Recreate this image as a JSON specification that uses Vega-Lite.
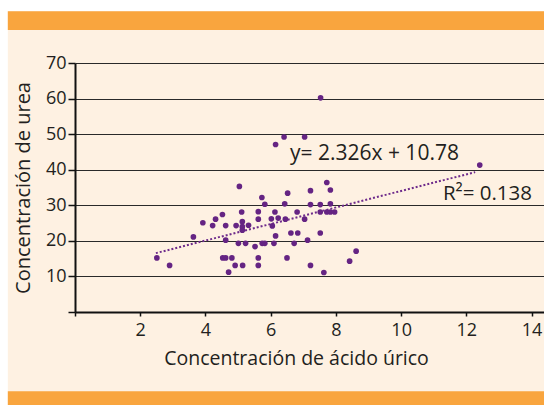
{
  "$schema": "https://vega.github.io/schema/vega-lite/v6.json",
  "background": "#FEF1E2",
  "autosize": "none",
  "width": 469,
  "height": 249,
  "padding": {"left": 75, "top": 63, "right": 0, "bottom": 93},
  "config": {"font": "Open Sans", "view": {"stroke": null}},
  "datasets": {
    "points": [
      {"x": 2.51, "y": 15.2}, {"x": 2.90, "y": 13.1}, {"x": 3.63, "y": 21.1}, {"x": 3.92, "y": 25.1},
      {"x": 4.22, "y": 24.3}, {"x": 4.31, "y": 26.1}, {"x": 4.52, "y": 27.4}, {"x": 4.53, "y": 15.2},
      {"x": 4.62, "y": 15.2}, {"x": 4.62, "y": 24.3}, {"x": 4.62, "y": 20.2}, {"x": 4.71, "y": 11.2},
      {"x": 4.81, "y": 15.2}, {"x": 4.91, "y": 13.1}, {"x": 4.94, "y": 24.3}, {"x": 5.01, "y": 19.3},
      {"x": 5.04, "y": 35.3}, {"x": 5.11, "y": 28.1}, {"x": 5.13, "y": 25.4}, {"x": 5.13, "y": 24.0},
      {"x": 5.13, "y": 23.0}, {"x": 5.14, "y": 13.1}, {"x": 5.23, "y": 19.3}, {"x": 5.32, "y": 24.4},
      {"x": 5.52, "y": 18.4}, {"x": 5.62, "y": 28.2}, {"x": 5.62, "y": 26.1}, {"x": 5.62, "y": 15.2},
      {"x": 5.62, "y": 13.1}, {"x": 5.73, "y": 32.2}, {"x": 5.74, "y": 19.3}, {"x": 5.82, "y": 19.3},
      {"x": 5.82, "y": 30.3}, {"x": 6.02, "y": 26.2}, {"x": 6.05, "y": 24.2}, {"x": 6.10, "y": 19.3},
      {"x": 6.13, "y": 28.1}, {"x": 6.15, "y": 21.4}, {"x": 6.15, "y": 47.1}, {"x": 6.23, "y": 26.4},
      {"x": 6.41, "y": 49.2}, {"x": 6.43, "y": 30.4}, {"x": 6.45, "y": 26.1}, {"x": 6.50, "y": 15.2},
      {"x": 6.52, "y": 33.4}, {"x": 6.62, "y": 22.2}, {"x": 6.72, "y": 19.3}, {"x": 6.81, "y": 28.1},
      {"x": 6.83, "y": 22.2}, {"x": 7.04, "y": 26.1}, {"x": 7.04, "y": 49.2}, {"x": 7.13, "y": 20.2},
      {"x": 7.22, "y": 34.1}, {"x": 7.22, "y": 30.2}, {"x": 7.22, "y": 13.1}, {"x": 7.52, "y": 30.2},
      {"x": 7.52, "y": 28.1}, {"x": 7.53, "y": 60.2}, {"x": 7.52, "y": 22.2}, {"x": 7.63, "y": 11.1},
      {"x": 7.72, "y": 36.4}, {"x": 7.72, "y": 28.1}, {"x": 7.83, "y": 34.3}, {"x": 7.83, "y": 30.4},
      {"x": 7.83, "y": 28.1}, {"x": 7.96, "y": 28.1}, {"x": 8.42, "y": 14.3}, {"x": 8.62, "y": 17.1},
      {"x": 12.41, "y": 41.3}
    ],
    "trend": [{"x": 2.48, "y": 16.55}, {"x": 12.27, "y": 39.32}]
  },
  "layer": [
    {
      "data": {"values": [{}]},
      "mark": {"type": "rect", "color": "#FFFFFF", "clip": false},
      "encoding": {
        "x": {"datum": -3, "type": "quantitative", "scale": {"domain": [0, 14.38], "nice": false, "zero": false}, "axis": {"title": "Concentración de ácido úrico", "values": [0, 2, 4, 6, 8, 10, 12, 14], "labelExpr": "datum.value == 0 ? '' : datum.label", "labelOverlap": false, "grid": false, "domainColor": "#111", "domainWidth": 2, "tickColor": "#111", "tickWidth": 1.5, "tickSize": 4, "labelFontSize": 18, "labelColor": "#231F20", "labelPadding": 5, "titleFontSize": 19.5, "titleFontWeight": "normal", "titleColor": "#231F20", "titlePadding": 10, "titleX": 221}},
        "x2": {"datum": 15},
        "y": {"datum": 95, "type": "quantitative", "scale": {"domain": [0, 70], "nice": false, "zero": false}, "axis": {"title": "Concentración de urea", "values": [0, 10, 20, 30, 40, 50, 60, 70], "labelExpr": "datum.value == 0 ? '' : datum.label", "labelOverlap": false, "grid": true, "gridColor": "#2a2a2a", "gridWidth": 1.2, "domainColor": "#111", "domainWidth": 2, "tickColor": "#111", "tickWidth": 1.5, "tickSize": 7, "labelFontSize": 18, "labelColor": "#231F20", "labelPadding": 2, "titleFontSize": 20, "titleFontWeight": "normal", "titleColor": "#231F20", "titlePadding": 12}},
        "y2": {"datum": 84.54}
      }
    },
    {
      "data": {"values": [{}]},
      "mark": {"type": "rect", "color": "#FFFFFF", "clip": false},
      "encoding": {
        "x": {"datum": -3, "type": "quantitative", "scale": {"domain": [0, 14.38], "nice": false, "zero": false}, "axis": {"title": "Concentración de ácido úrico", "values": [0, 2, 4, 6, 8, 10, 12, 14], "labelExpr": "datum.value == 0 ? '' : datum.label", "labelOverlap": false, "grid": false, "domainColor": "#111", "domainWidth": 2, "tickColor": "#111", "tickWidth": 1.5, "tickSize": 4, "labelFontSize": 18, "labelColor": "#231F20", "labelPadding": 5, "titleFontSize": 19.5, "titleFontWeight": "normal", "titleColor": "#231F20", "titlePadding": 10, "titleX": 221}},
        "x2": {"datum": -2.06},
        "y": {"datum": 95, "type": "quantitative", "scale": {"domain": [0, 70], "nice": false, "zero": false}, "axis": {"title": "Concentración de urea", "values": [0, 10, 20, 30, 40, 50, 60, 70], "labelExpr": "datum.value == 0 ? '' : datum.label", "labelOverlap": false, "grid": true, "gridColor": "#2a2a2a", "gridWidth": 1.2, "domainColor": "#111", "domainWidth": 2, "tickColor": "#111", "tickWidth": 1.5, "tickSize": 7, "labelFontSize": 18, "labelColor": "#231F20", "labelPadding": 2, "titleFontSize": 20, "titleFontWeight": "normal", "titleColor": "#231F20", "titlePadding": 12}},
        "y2": {"datum": -30}
      }
    },
    {
      "data": {"values": [{}]},
      "mark": {"type": "rect", "color": "#F9A53E", "clip": false},
      "encoding": {
        "x": {"datum": -2.06, "type": "quantitative", "scale": {"domain": [0, 14.38], "nice": false, "zero": false}, "axis": {"title": "Concentración de ácido úrico", "values": [0, 2, 4, 6, 8, 10, 12, 14], "labelExpr": "datum.value == 0 ? '' : datum.label", "labelOverlap": false, "grid": false, "domainColor": "#111", "domainWidth": 2, "tickColor": "#111", "tickWidth": 1.5, "tickSize": 4, "labelFontSize": 18, "labelColor": "#231F20", "labelPadding": 5, "titleFontSize": 19.5, "titleFontWeight": "normal", "titleColor": "#231F20", "titlePadding": 10, "titleX": 221}},
        "x2": {"datum": 15},
        "y": {"datum": 84.54, "type": "quantitative", "scale": {"domain": [0, 70], "nice": false, "zero": false}, "axis": {"title": "Concentración de urea", "values": [0, 10, 20, 30, 40, 50, 60, 70], "labelExpr": "datum.value == 0 ? '' : datum.label", "labelOverlap": false, "grid": true, "gridColor": "#2a2a2a", "gridWidth": 1.2, "domainColor": "#111", "domainWidth": 2, "tickColor": "#111", "tickWidth": 1.5, "tickSize": 7, "labelFontSize": 18, "labelColor": "#231F20", "labelPadding": 2, "titleFontSize": 20, "titleFontWeight": "normal", "titleColor": "#231F20", "titlePadding": 12}},
        "y2": {"datum": 79.3}
      }
    },
    {
      "data": {"values": [{}]},
      "mark": {"type": "rect", "color": "#F9A53E", "clip": false},
      "encoding": {
        "x": {"datum": -2.06, "type": "quantitative", "scale": {"domain": [0, 14.38], "nice": false, "zero": false}, "axis": {"title": "Concentración de ácido úrico", "values": [0, 2, 4, 6, 8, 10, 12, 14], "labelExpr": "datum.value == 0 ? '' : datum.label", "labelOverlap": false, "grid": false, "domainColor": "#111", "domainWidth": 2, "tickColor": "#111", "tickWidth": 1.5, "tickSize": 4, "labelFontSize": 18, "labelColor": "#231F20", "labelPadding": 5, "titleFontSize": 19.5, "titleFontWeight": "normal", "titleColor": "#231F20", "titlePadding": 10, "titleX": 221}},
        "x2": {"datum": 15},
        "y": {"datum": -22.3, "type": "quantitative", "scale": {"domain": [0, 70], "nice": false, "zero": false}, "axis": {"title": "Concentración de urea", "values": [0, 10, 20, 30, 40, 50, 60, 70], "labelExpr": "datum.value == 0 ? '' : datum.label", "labelOverlap": false, "grid": true, "gridColor": "#2a2a2a", "gridWidth": 1.2, "domainColor": "#111", "domainWidth": 2, "tickColor": "#111", "tickWidth": 1.5, "tickSize": 7, "labelFontSize": 18, "labelColor": "#231F20", "labelPadding": 2, "titleFontSize": 20, "titleFontWeight": "normal", "titleColor": "#231F20", "titlePadding": 12}},
        "y2": {"datum": -30}
      }
    },
    {
      "data": {"name": "trend"},
      "mark": {"type": "line", "color": "#6E2B8B", "strokeWidth": 2, "strokeDash": [2, 2]},
      "encoding": {
        "x": {"field": "x", "type": "quantitative", "scale": {"domain": [0, 14.38], "nice": false, "zero": false}, "axis": {"title": "Concentración de ácido úrico", "values": [0, 2, 4, 6, 8, 10, 12, 14], "labelExpr": "datum.value == 0 ? '' : datum.label", "labelOverlap": false, "grid": false, "domainColor": "#111", "domainWidth": 2, "tickColor": "#111", "tickWidth": 1.5, "tickSize": 4, "labelFontSize": 18, "labelColor": "#231F20", "labelPadding": 5, "titleFontSize": 19.5, "titleFontWeight": "normal", "titleColor": "#231F20", "titlePadding": 10, "titleX": 221}},
        "y": {"field": "y", "type": "quantitative", "scale": {"domain": [0, 70], "nice": false, "zero": false}, "axis": {"title": "Concentración de urea", "values": [0, 10, 20, 30, 40, 50, 60, 70], "labelExpr": "datum.value == 0 ? '' : datum.label", "labelOverlap": false, "grid": true, "gridColor": "#2a2a2a", "gridWidth": 1.2, "domainColor": "#111", "domainWidth": 2, "tickColor": "#111", "tickWidth": 1.5, "tickSize": 7, "labelFontSize": 18, "labelColor": "#231F20", "labelPadding": 2, "titleFontSize": 20, "titleFontWeight": "normal", "titleColor": "#231F20", "titlePadding": 12}}
      }
    },
    {
      "data": {"name": "points"},
      "mark": {"type": "point", "filled": true, "color": "#652483", "opacity": 1, "size": 32},
      "encoding": {
        "x": {"field": "x", "type": "quantitative", "scale": {"domain": [0, 14.38], "nice": false, "zero": false}, "axis": {"title": "Concentración de ácido úrico", "values": [0, 2, 4, 6, 8, 10, 12, 14], "labelExpr": "datum.value == 0 ? '' : datum.label", "labelOverlap": false, "grid": false, "domainColor": "#111", "domainWidth": 2, "tickColor": "#111", "tickWidth": 1.5, "tickSize": 4, "labelFontSize": 18, "labelColor": "#231F20", "labelPadding": 5, "titleFontSize": 19.5, "titleFontWeight": "normal", "titleColor": "#231F20", "titlePadding": 10, "titleX": 221}},
        "y": {"field": "y", "type": "quantitative", "scale": {"domain": [0, 70], "nice": false, "zero": false}, "axis": {"title": "Concentración de urea", "values": [0, 10, 20, 30, 40, 50, 60, 70], "labelExpr": "datum.value == 0 ? '' : datum.label", "labelOverlap": false, "grid": true, "gridColor": "#2a2a2a", "gridWidth": 1.2, "domainColor": "#111", "domainWidth": 2, "tickColor": "#111", "tickWidth": 1.5, "tickSize": 7, "labelFontSize": 18, "labelColor": "#231F20", "labelPadding": 2, "titleFontSize": 20, "titleFontWeight": "normal", "titleColor": "#231F20", "titlePadding": 12}}
      }
    },
    {
      "data": {"values": [{}]},
      "mark": {"type": "text", "text": "y= 2.326x + 10.78", "align": "left", "baseline": "middle", "fontSize": 21, "color": "#231F20"},
      "encoding": {
        "x": {"datum": 6.59, "type": "quantitative", "scale": {"domain": [0, 14.38], "nice": false, "zero": false}, "axis": {"title": "Concentración de ácido úrico", "values": [0, 2, 4, 6, 8, 10, 12, 14], "labelExpr": "datum.value == 0 ? '' : datum.label", "labelOverlap": false, "grid": false, "domainColor": "#111", "domainWidth": 2, "tickColor": "#111", "tickWidth": 1.5, "tickSize": 4, "labelFontSize": 18, "labelColor": "#231F20", "labelPadding": 5, "titleFontSize": 19.5, "titleFontWeight": "normal", "titleColor": "#231F20", "titlePadding": 10, "titleX": 221}},
        "y": {"datum": 44.3, "type": "quantitative", "scale": {"domain": [0, 70], "nice": false, "zero": false}, "axis": {"title": "Concentración de urea", "values": [0, 10, 20, 30, 40, 50, 60, 70], "labelExpr": "datum.value == 0 ? '' : datum.label", "labelOverlap": false, "grid": true, "gridColor": "#2a2a2a", "gridWidth": 1.2, "domainColor": "#111", "domainWidth": 2, "tickColor": "#111", "tickWidth": 1.5, "tickSize": 7, "labelFontSize": 18, "labelColor": "#231F20", "labelPadding": 2, "titleFontSize": 20, "titleFontWeight": "normal", "titleColor": "#231F20", "titlePadding": 12}}
      }
    },
    {
      "data": {"values": [{}]},
      "mark": {"type": "text", "text": "R²= 0.138", "align": "left", "baseline": "middle", "fontSize": 20.5, "color": "#231F20"},
      "encoding": {
        "x": {"datum": 11.28, "type": "quantitative", "scale": {"domain": [0, 14.38], "nice": false, "zero": false}, "axis": {"title": "Concentración de ácido úrico", "values": [0, 2, 4, 6, 8, 10, 12, 14], "labelExpr": "datum.value == 0 ? '' : datum.label", "labelOverlap": false, "grid": false, "domainColor": "#111", "domainWidth": 2, "tickColor": "#111", "tickWidth": 1.5, "tickSize": 4, "labelFontSize": 18, "labelColor": "#231F20", "labelPadding": 5, "titleFontSize": 19.5, "titleFontWeight": "normal", "titleColor": "#231F20", "titlePadding": 10, "titleX": 221}},
        "y": {"datum": 33.1, "type": "quantitative", "scale": {"domain": [0, 70], "nice": false, "zero": false}, "axis": {"title": "Concentración de urea", "values": [0, 10, 20, 30, 40, 50, 60, 70], "labelExpr": "datum.value == 0 ? '' : datum.label", "labelOverlap": false, "grid": true, "gridColor": "#2a2a2a", "gridWidth": 1.2, "domainColor": "#111", "domainWidth": 2, "tickColor": "#111", "tickWidth": 1.5, "tickSize": 7, "labelFontSize": 18, "labelColor": "#231F20", "labelPadding": 2, "titleFontSize": 20, "titleFontWeight": "normal", "titleColor": "#231F20", "titlePadding": 12}}
      }
    }
  ]
}
